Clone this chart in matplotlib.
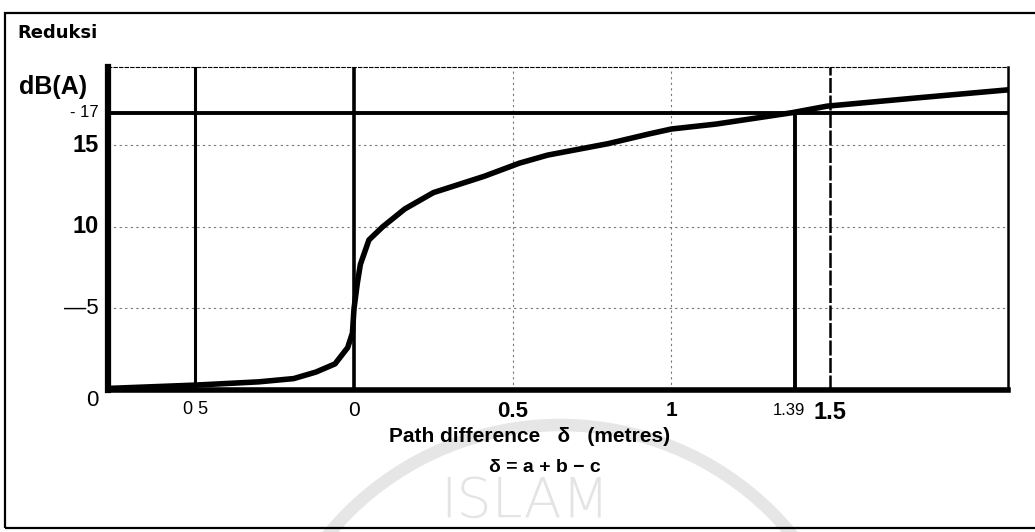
import matplotlib.pyplot as plt
from matplotlib.patches import Ellipse, Rectangle

plt.rcParams['font.family'] = ['Liberation Sans', 'DejaVu Sans']

# curve (path difference in metres, reduction in dB(A))
delta = [-0.77, -0.5, -0.3, -0.19, -0.12, -0.06, -0.02, -0.005, 0.0, 0.01,
         0.02, 0.047, 0.09, 0.16, 0.25, 0.41, 0.52, 0.61, 0.8, 0.93, 1.0,
         1.14, 1.38, 1.49, 1.77, 2.06]
reduction = [0.1, 0.3, 0.5, 0.7, 1.1, 1.6, 2.6, 3.5, 5.0, 6.5, 7.7, 9.2,
             10.0, 11.1, 12.1, 13.1, 13.9, 14.4, 15.1, 15.7, 16.0, 16.3,
             17.0, 17.4, 17.9, 18.4]

x_ticks = [-0.5, 0, 0.5, 1, 1.5]
x_labels = ['0 5', '0', '0.5', '1', '1.5']
y_ticks = [0, 5, 10, 15, 17]
y_labels = ['0', '\u20145', '10', '15', '- 17']
target_db = 17
target_delta = 1.39

fig = plt.figure(figsize=(10.35, 5.32), dpi=100)

# scan watermark + outer frame, in figure pixels
W, H = 1035, 532
fig.patches.append(Ellipse((560 / W, (H - 725) / H), 600 / W, 600 / H, transform=fig.transFigure,
                           fill=False, edgecolor='#e6e6e6', linewidth=9, zorder=-1))
fig.text(525 / W, 1 - 502 / H, 'ISLAM', fontsize=40, color='#e4e4e4',
         ha='center', va='center', family='DejaVu Sans', weight='light', zorder=-1)
fig.patches.append(Rectangle((5 / W, 1 - 528 / H), 1.2, (528 - 13) / H, transform=fig.transFigure,
                             fill=False, edgecolor='black', linewidth=1.6, zorder=1))

ax = fig.add_axes([108 / W, 1 - 390 / H, 900 / W, 323 / H])
ax.set_xlim(-0.775, 2.06)
ax.set_ylim(0, 19.8)

# light dotted grid
for y in [5, 10, 15]:
    ax.axhline(y, color='#777777', lw=0.8, ls=(0, (2, 3)), zorder=1)
for x in [0.5, 1]:
    ax.axvline(x, color='#777777', lw=0.8, ls=(0, (2, 3)), zorder=1)
# heavy grid lines
ax.axvline(-0.5, color='black', lw=2.2, zorder=2)
ax.axvline(0, color='black', lw=2.6, zorder=2)
ax.axvline(1.5, color='black', lw=1.8, ls=(0, (6, 1)), zorder=2)
ax.axhline(target_db, color='black', lw=2.8, zorder=2)
ax.plot([target_delta, target_delta], [0, target_db], color='black', lw=2.8, zorder=2)

ax.plot(delta, reduction, color='black', lw=4, solid_capstyle='round', zorder=3)

ax.spines['left'].set_linewidth(4.5)
ax.spines['bottom'].set_linewidth(4)
ax.spines['right'].set_linewidth(1.8)
ax.spines['top'].set_linewidth(0.8)
ax.spines['top'].set_linestyle((0, (3, 2)))

ax.set_xticks(x_ticks, x_labels)
ax.set_yticks(y_ticks, y_labels)
ax.tick_params(length=0)
ax.tick_params(axis='x', pad=8)
ax.tick_params(axis='y', pad=7)
for t, size, weight in zip(ax.get_xticklabels(), [13, 15, 16, 15, 17],
                           ['normal', 'normal', 'bold', 'bold', 'bold']):
    t.set_fontsize(size)
    t.set_fontweight(weight)
for t, size, weight in zip(ax.get_yticklabels(), [16, 16, 17, 17, 12],
                           ['normal', 'normal', 'bold', 'bold', 'normal']):
    t.set_fontsize(size)
    t.set_fontweight(weight)
    t.set_verticalalignment('top' if t.get_text() == '0' else 'center')

ax.text(target_delta + 0.03, -0.8, '1.39', fontsize=12, ha='right', va='top')

fig.text(17 / W, 1 - 33 / H, 'Reduksi', fontsize=13, weight='bold', va='center',
         family='DejaVu Sans')
fig.text(53 / W, 1 - 87 / H, 'dB(A)', fontsize=18, weight='bold', ha='center', va='center')
fig.text(530 / W, 1 - 437 / H, 'Path difference   \u03b4   (metres)', fontsize=15,
         weight='bold', ha='center', va='center')
fig.text(545 / W, 1 - 467 / H, '\u03b4 = a + b \u2212 c', fontsize=14,
         weight='bold', ha='center', va='center')

fig.savefig('out.png', dpi=100, facecolor='white')
